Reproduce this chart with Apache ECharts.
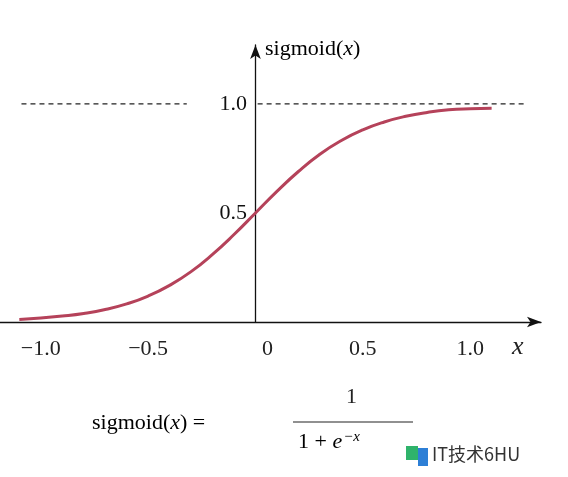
<!DOCTYPE html>
<html><head><meta charset="utf-8">
<script src="https://cdn.jsdelivr.net/npm/echarts@6/dist/echarts.min.js"></script>
<style>html,body{margin:0;padding:0;background:#fff}#c{width:568px;height:477px}</style>
</head><body><div id="c"></div>
<script>
const xValues = [-1.1,-1.0,-0.9,-0.8,-0.7,-0.6,-0.5,-0.4,-0.3,-0.2,-0.1,0,0.1,0.2,0.3,0.4,0.5,0.6,0.7,0.8,0.9,1.0,1.1];
const yValues = [0.012,0.018,0.027,0.039,0.057,0.083,0.119,0.168,0.231,0.310,0.401,0.5,0.599,0.690,0.769,0.832,0.881,0.917,0.943,0.961,0.973,0.978,0.980];
const xTicks = [-1.0,-0.5,0.5,1.0];
const yTicks = [0.5,1.0];
const dashLeft = [-1.09,-0.32];
const dashRight = [0.01,1.26];
const dashY = 1.0;
const serif = '"Liberation Serif","DejaVu Serif",serif';
const rich = {n:{fontFamily:serif,fontSize:22,color:'#222'},i:{fontFamily:serif,fontStyle:'italic',fontSize:22,color:'#222'},s:{fontFamily:serif,fontStyle:'italic',fontSize:15,color:'#222',verticalAlign:'top',padding:[0,0,10,1]}};
const dash = {type:'line',symbol:'none',silent:true,lineStyle:{color:'#222',width:1.2,type:[5,4]},z:1};
const chart = echarts.init(document.getElementById('c'));
chart.setOption({
  animation:false,
  grid:{left:0,top:45,width:541,height:277,containLabel:false,outerBoundsMode:'none'},
  xAxis:{type:'value',min:-1.19,max:1.33,splitLine:{show:false},
    axisLine:{onZero:true,symbol:['none','arrow'],symbolSize:[8,14],lineStyle:{color:'#111',width:1.3}},
    axisTick:{show:false},
    axisLabel:{customValues:xTicks,formatter:v=>v.toFixed(1).replace('-','\u2212'),fontFamily:serif,fontSize:22,color:'#222',margin:16}},
  yAxis:{type:'value',min:0,max:1.27,splitLine:{show:false},
    axisLine:{onZero:true,symbol:['none','arrow'],symbolSize:[8,14],lineStyle:{color:'#111',width:1.3}},
    axisTick:{show:false},axisLabel:{show:false}},
  series:[
    Object.assign({data:dashLeft.map(x=>[x,dashY])},dash),
    Object.assign({data:dashRight.map(x=>[x,dashY])},dash),
    {type:'line',data:xValues.map((x,i)=>[x,yValues[i]]),smooth:true,symbol:'none',lineStyle:{color:'#b5425a',width:3},z:3},
    {type:'scatter',data:yTicks.map(v=>[0,v]),symbolSize:1,itemStyle:{opacity:0},silent:true,z:5,
      label:{show:true,position:'left',distance:8,opacity:1,formatter:p=>p.value[1].toFixed(1),fontFamily:serif,fontSize:22,color:'#111'}}
  ],
  graphic:[
    {type:'text',left:265,top:38,style:{text:'{n|sigmoid(}{i|x}{n|)}',rich:rich}},
    {type:'text',left:262,top:338,style:{text:'0',font:'22px '+serif,fill:'#222'}},
    {type:'text',left:512,top:334,style:{text:'x',font:'italic 26px '+serif,fill:'#222'}},
    {type:'text',left:92,top:412,style:{text:'{n|sigmoid(}{i|x}{n|) =}',rich:rich}},
    {type:'text',left:346,top:386,style:{text:'1',font:'22px '+serif,fill:'#222'}},
    {type:'line',shape:{x1:293,y1:422,x2:413,y2:422},style:{stroke:'#222',lineWidth:1.2}},
    {type:'text',left:298,top:430,style:{text:'{n|1 + }{i|e}{s|\u2212x}',rich:rich}},
    {type:'rect',shape:{x:406,y:446,width:12,height:14},style:{fill:'#2fb36b'}},
    {type:'rect',shape:{x:418,y:448,width:10,height:18},style:{fill:'#2d7fd6'}},
    {type:'text',left:432,top:445,style:{text:'IT技术6HU',font:'18px "Noto Sans CJK SC",sans-serif',fill:'#333'}}
  ]
});
</script></body></html>
